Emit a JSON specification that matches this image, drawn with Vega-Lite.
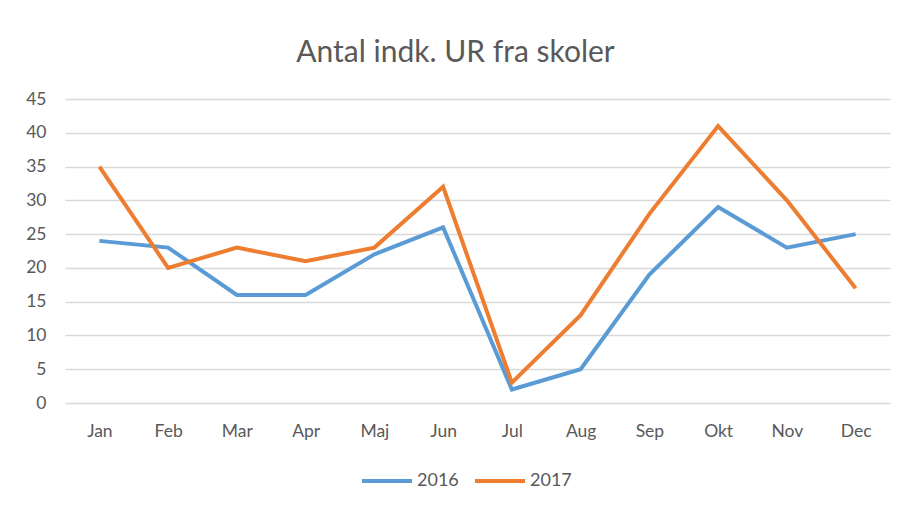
{
  "$schema": "https://vega.github.io/schema/vega-lite/v6.json",
  "width": 825,
  "height": 304,
  "autosize": {"type": "none"},
  "padding": {"left": 65, "top": 99, "right": 22, "bottom": 107},
  "background": "white",
  "title": {
    "text": "Antal indk. UR fra skoler",
    "font": "Lato",
    "fontSize": 30,
    "fontWeight": "normal",
    "color": "#595959",
    "anchor": "middle",
    "dx": -22,
    "offset": 22
  },
  "data": {
    "values": [
      {"month": "Jan", "year": "2016", "value": 24},
      {"month": "Feb", "year": "2016", "value": 23},
      {"month": "Mar", "year": "2016", "value": 16},
      {"month": "Apr", "year": "2016", "value": 16},
      {"month": "Maj", "year": "2016", "value": 22},
      {"month": "Jun", "year": "2016", "value": 26},
      {"month": "Jul", "year": "2016", "value": 2},
      {"month": "Aug", "year": "2016", "value": 5},
      {"month": "Sep", "year": "2016", "value": 19},
      {"month": "Okt", "year": "2016", "value": 29},
      {"month": "Nov", "year": "2016", "value": 23},
      {"month": "Dec", "year": "2016", "value": 25},
      {"month": "Jan", "year": "2017", "value": 35},
      {"month": "Feb", "year": "2017", "value": 20},
      {"month": "Mar", "year": "2017", "value": 23},
      {"month": "Apr", "year": "2017", "value": 21},
      {"month": "Maj", "year": "2017", "value": 23},
      {"month": "Jun", "year": "2017", "value": 32},
      {"month": "Jul", "year": "2017", "value": 3},
      {"month": "Aug", "year": "2017", "value": 13},
      {"month": "Sep", "year": "2017", "value": 28},
      {"month": "Okt", "year": "2017", "value": 41},
      {"month": "Nov", "year": "2017", "value": 30},
      {"month": "Dec", "year": "2017", "value": 17}
    ]
  },
  "mark": {"type": "line", "strokeWidth": 4, "strokeJoin": "miter"},
  "encoding": {
    "x": {
      "field": "month",
      "type": "ordinal",
      "sort": ["Jan", "Feb", "Mar", "Apr", "Maj", "Jun", "Jul", "Aug", "Sep", "Okt", "Nov", "Dec"],
      "scale": {"type": "point", "padding": 0.5},
      "axis": {
        "title": null,
        "labelAngle": 0,
        "domain": false,
        "ticks": false,
        "labelPadding": 19,
        "labelFont": "Lato",
        "labelFontSize": 17.5,
        "labelColor": "#595959"
      }
    },
    "y": {
      "field": "value",
      "type": "quantitative",
      "scale": {"domain": [0, 45], "nice": false},
      "axis": {
        "title": null,
        "values": [0, 5, 10, 15, 20, 25, 30, 35, 40, 45],
        "domain": false,
        "ticks": false,
        "labelPadding": 19,
        "labelFont": "Lato",
        "labelFontSize": 17.5,
        "labelColor": "#595959",
        "gridColor": "#d9d9d9",
        "gridWidth": 1.5
      }
    },
    "color": {
      "field": "year",
      "type": "nominal",
      "scale": {"domain": ["2016", "2017"], "range": ["#5B9BD5", "#ED7D31"]},
      "legend": {
        "title": null,
        "orient": "none",
        "direction": "horizontal",
        "legendX": 295,
        "legendY": 355,
        "symbolType": "stroke",
        "symbolSize": 2500,
        "symbolStrokeWidth": 4,
        "labelFont": "Lato",
        "labelFontSize": 18,
        "labelColor": "#595959",
        "labelOffset": 3,
        "columnPadding": 8
      }
    }
  },
  "config": {"view": {"stroke": null}}
}
